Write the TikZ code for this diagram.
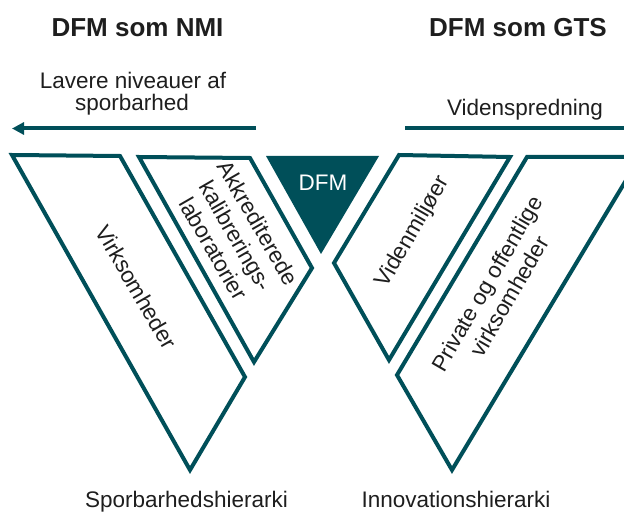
\documentclass[tikz,border=0pt]{standalone}
\usepackage{fontspec}
\setmainfont{Liberation Sans}
\usetikzlibrary{arrows.meta}
\definecolor{teal}{RGB}{0,79,89}
\definecolor{txt}{RGB}{30,30,30}
\tikzset{
  band/.style={draw=teal, line width=4pt, line join=miter, fill=white},
  title/.style={text=txt, font=\fontsize{26}{30}\selectfont\bfseries, anchor=base, inner sep=0pt},
  lbl/.style={text=txt, font=\fontsize{22.5}{26}\selectfont, inner sep=0pt},
  flow/.style={draw=teal, line width=4pt},
}
\begin{document}
\begin{tikzpicture}[x=1pt,y=-1pt]
\useasboundingbox (0,0) rectangle (624,513);
\begin{scope}
\clip (0,0) rectangle (624,513);
% shapes
\draw[band] (12,155) -- (120,156) -- (245,377) -- (190,470) -- cycle;
\draw[band] (139,157) -- (250,158) -- (312,268) -- (254,362) -- cycle;
\fill[teal] (266,156) -- (379,156) -- (321,254) -- cycle;
\draw[band] (399,155) -- (510,157) -- (389,360) -- (334,263) -- cycle;
\draw[band] (527,157) -- (640,157) -- (452,470) -- (397,375) -- cycle;
% arrows
\coordinate (la) at (256,128.5);
\coordinate (lb) at (12,128.5);
\coordinate (ra) at (405,128.5);
\coordinate (rb) at (640,128.5);
\draw[flow, -{Triangle[length=12pt,width=12pt]}] (la) -- (lb);
\draw[flow] (ra) -- (rb);
\end{scope}
% titles
\node[title] (nmi) at (137.5,36.7) {DFM som NMI};
\node[title] (gts) at (518,36.7) {DFM som GTS};
\node[lbl, anchor=base] (lav1) at (133,89) {Lavere niveauer af};
\node[lbl, anchor=base] (lav2) at (132,111) {sporbarhed};
\node[lbl, anchor=base] (vsp) at (525,116) {Videnspredning};
\node[lbl, anchor=base, text=white] (dfm) at (323,190.7) {DFM};
% rotated
\node[lbl, rotate=-60] (virk) at (136.5,287) {Virksomheder};
\node[lbl, rotate=-60, align=center] (akk) at (236,236) {Akkrediterede\\kalibrerings-\\laboratorier};
\node[lbl, rotate=60] (vmil) at (413,232) {Videnmiljøer};
\node[lbl, rotate=60, align=center] (priv) at (498,290) {Private og offentlige\\virksomheder};
% bottom
\node[lbl, anchor=base] (sph) at (186.5,507) {Sporbarhedshierarki};
\node[lbl, anchor=base] (inh) at (456,507) {Innovationshierarki};
\end{tikzpicture}
\end{document}
